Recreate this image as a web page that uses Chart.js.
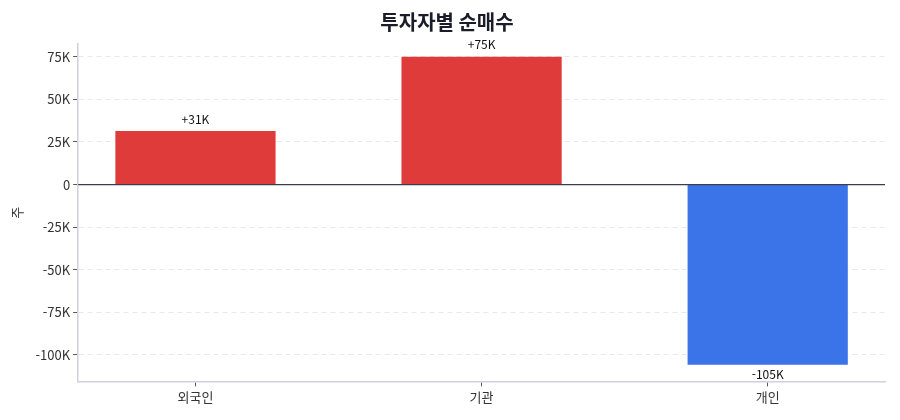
<!DOCTYPE html>
<html lang="ko">
<head>
<meta charset="utf-8">
<script src="https://cdn.jsdelivr.net/npm/chart.js@4"></script>
<style>
  html, body { margin: 0; padding: 0; background: #fff; }
  #wrap { width: 900px; height: 420px; }
</style>
</head>
<body>
<div id="wrap"><canvas id="myChart"></canvas></div>
<script>
const categories = ["외국인", "기관", "개인"];
const netBuy = [31400, 75000, -105800];
const valueLabels = ["+31K", "+75K", "-105K"];
const yTickLabels = { "75000": "75K", "50000": "50K", "25000": "25K", "0": "0",
    "-25000": "-25K", "-50000": "-50K", "-75000": "-75K", "-100000": "-100K" };

(() => {
    "use strict";

    const font = "'Noto Sans CJK KR', 'Noto Sans', sans-serif";

    // value text above / below each bar, and the dark zero line
    const extras = {
        id: "extras",
        afterDatasetsDraw(chart) {
            const { ctx, chartArea, scales } = chart;
            const y0 = scales.y.getPixelForValue(0);
            ctx.save();
            ctx.strokeStyle = "#3a3f4b";
            ctx.lineWidth = 1.2;
            ctx.beginPath();
            ctx.moveTo(chartArea.left, y0);
            ctx.lineTo(chartArea.right, y0);
            ctx.stroke();

            ctx.font = "12px " + font;
            ctx.fillStyle = "#111";
            ctx.textAlign = "center";
            chart.getDatasetMeta(0).data.forEach((bar, i) => {
                if (netBuy[i] >= 0) {
                    ctx.textBaseline = "bottom";
                    ctx.fillText(valueLabels[i], bar.x, bar.y - 6);
                } else {
                    ctx.textBaseline = "top";
                    ctx.fillText(valueLabels[i], bar.x, bar.y + 4);
                }
            });
            ctx.restore();
        },
    };

    // @ts-ignore
    new Chart(document.getElementById("myChart"), {
        type: "bar",
        data: {
            datasets: [{
                data: netBuy.map((v, i) => ({ x: i, y: v })),
                backgroundColor: netBuy.map((v) => (v >= 0 ? "#df3b3b" : "#3b73e8")),
                barPercentage: 0.56,
                categoryPercentage: 1,
            }],
        },
        options: {
            responsive: true,
            maintainAspectRatio: false,
            animation: false,
            layout: { padding: { left: 9, right: 15, top: 0, bottom: 12 } },
            plugins: {
                legend: { display: false },
                tooltip: { enabled: false },
                title: {
                    display: true,
                    text: "투자자별 순매수",
                    color: "#1a1d29",
                    font: { family: font, size: 20, weight: "bold" },
                    padding: { top: 10, bottom: 10 },
                },
            },
            scales: {
                x: {
                    type: "linear",
                    min: -0.41,
                    max: 2.41,
                    offset: false,
                    afterBuildTicks(axis) {
                        axis.ticks = categories.map((c, i) => ({ value: i }));
                    },
                    grid: {
                        display: true,
                        offset: false,
                        drawOnChartArea: false,
                        drawTicks: true,
                        tickLength: 5,
                        tickColor: "#555",
                    },
                    border: { color: "#cdd2de", width: 1.5 },
                    ticks: {
                        color: "#333",
                        font: { family: font, size: 13 },
                        padding: 3,
                        callback: (v) => categories[v],
                    },
                },
                y: {
                    min: -115500,
                    max: 82500,
                    afterBuildTicks(axis) {
                        axis.ticks = Object.keys(yTickLabels).map((v) => ({ value: Number(v) }));
                    },
                    title: {
                        display: true,
                        text: "주",
                        color: "#333",
                        font: { family: font, size: 13 },
                        padding: { top: 0, bottom: 8 },
                    },
                    grid: {
                        color: "#e6e8ee",
                        lineWidth: 1,
                        tickColor: "#555",
                        tickLength: 5,
                        tickBorderDash: [],
                    },
                    border: { color: "#cdd2de", width: 1.5, dash: [5, 4] },
                    ticks: {
                        color: "#333",
                        font: { family: font, size: 13 },
                        padding: 3,
                        callback: (v) => yTickLabels[String(v)],
                    },
                },
            },
        },
        plugins: [extras],
    });
})();
</script>
</body>
</html>
